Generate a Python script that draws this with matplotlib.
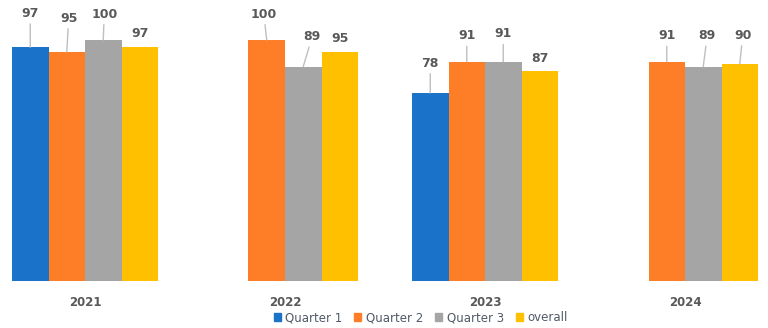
import numpy as np
import matplotlib.pyplot as plt
from matplotlib.patches import Patch

years = ["2021", "2022", "2023", "2024"]
series = ["Quarter 1", "Quarter 2", "Quarter 3", "overall"]
quarter1 = [97, np.nan, 78, np.nan]
quarter2 = [95, 100, 91, 91]
quarter3 = [100, 89, 91, 89]
overall = [97, 95, 87, 90]

colors = ["#1a73c8", "#fd7e27", "#a5a5a5", "#ffc000"]
text_color = "#595959"

# label offsets (pixels) from the top of each bar, per series, per year
label_offsets = [
	[(0, 34), None, (0, 30), None],
	[(2, 34), (-3, 26), (0, 26), (0, 26)],
	[(1, 26), (9, 30), (0, 28), (4, 31)],
	[(0, 14), (0, 14), (0, 13), (3, 29)],
]

fig = plt.figure(figsize=(7.68, 3.28), dpi=100)
ax = fig.add_axes([0, 47 / 328, 1, 281 / 328])

x = np.arange(len(years))
width = 0.1825
values = [quarter1, quarter2, quarter3, overall]

for i, (name, vals) in enumerate(zip(series, values)):
	pos = x + (i - 1.5) * width
	ax.bar(pos, vals, width, color=colors[i], label=name, linewidth=0)
	for j, v in enumerate(vals):
		if np.isnan(v):
			continue
		dx, dy = label_offsets[i][j]
		props = None
		if dy > 20:
			props = dict(arrowstyle="-", color="#bfbfbf", lw=1, shrinkA=1, shrinkB=0)
		ax.annotate(str(int(v)), xy=(pos[j], v), xytext=(dx, dy),
			textcoords="offset pixels", ha="center", va="center",
			fontsize=9, fontweight="bold", color=text_color, arrowprops=props)

ax.set_xlim((0 - 85) / 200, (768 - 85) / 200)
ax.set_ylim(0, 281 / 2.41)
ax.set_xticks(x)
ax.set_xticklabels(years, fontsize=8.5, fontweight="bold", color=text_color)
ax.tick_params(axis="x", length=0, pad=11)
ax.set_yticks([])
for s in ax.spines.values():
	s.set_visible(False)

handles = [Patch(color=c) for c in colors]
fig.legend(handles, series, loc="center", bbox_to_anchor=(0.548, 0.032), ncol=4,
	frameon=False, fontsize=8.5, labelcolor="#505a66", handlelength=0.6,
	handleheight=0.6, handletextpad=0.4, columnspacing=1.0)

fig.savefig("out.png", dpi=100)
